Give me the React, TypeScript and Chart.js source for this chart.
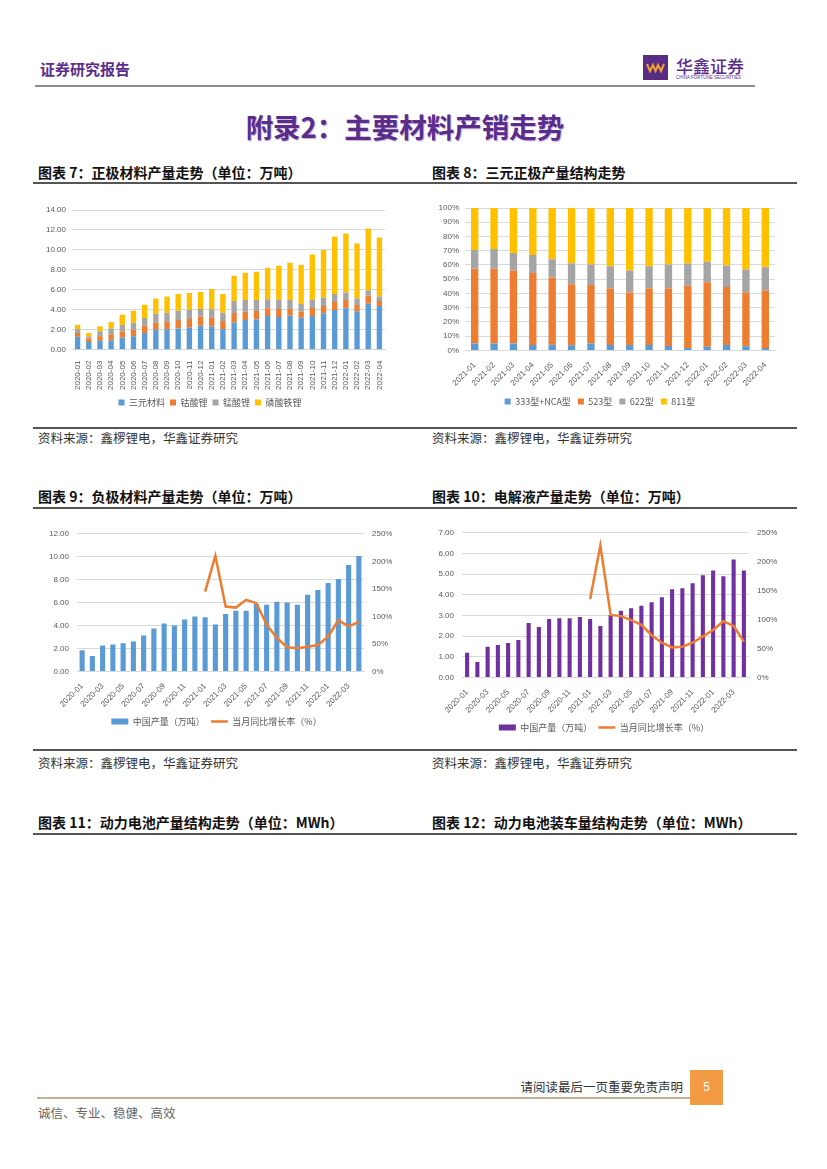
import React, { useEffect, useRef } from "react";
import { Chart, registerables } from "chart.js";

Chart.register(...registerables);

const FONT = '"Liberation Sans", "Noto Sans CJK SC", sans-serif';
const CJK = '"Noto Sans CJK SC", sans-serif';

const months28 = [
  "2020-01", "2020-02", "2020-03", "2020-04", "2020-05", "2020-06", "2020-07", "2020-08", "2020-09", "2020-10", "2020-11", "2020-12",
  "2021-01", "2021-02", "2021-03", "2021-04", "2021-05", "2021-06", "2021-07", "2021-08", "2021-09", "2021-10", "2021-11", "2021-12",
  "2022-01", "2022-02", "2022-03", "2022-04",
];
const months16 = [
  "2021-01", "2021-02", "2021-03", "2021-04", "2021-05", "2021-06", "2021-07", "2021-08", "2021-09", "2021-10", "2021-11", "2021-12",
  "2022-01", "2022-02", "2022-03", "2022-04",
];

// 图表7 正极材料产量（万吨）
const cathodeNCM = [1.28, 0.77, 0.88, 0.94, 1.21, 1.35, 1.68, 1.99, 2.05, 2.12, 2.22, 2.39, 2.32, 2.05, 2.73, 2.96, 3.03, 3.37, 3.27, 3.40, 3.20, 3.37, 3.64, 3.97, 4.14, 3.84, 4.61, 4.38];
const cathodeLCO = [0.40, 0.34, 0.47, 0.61, 0.61, 0.64, 0.71, 0.71, 0.74, 0.84, 0.84, 0.91, 0.88, 0.81, 0.94, 0.84, 0.84, 0.77, 0.81, 0.67, 0.61, 0.81, 0.74, 0.81, 0.84, 0.64, 0.81, 0.50];
const cathodeLMO = [0.37, 0.20, 0.50, 0.57, 0.64, 0.71, 0.77, 0.91, 0.91, 0.94, 0.94, 0.77, 0.84, 0.84, 1.21, 1.18, 1.11, 0.91, 0.91, 0.91, 0.77, 0.81, 0.81, 0.81, 0.74, 0.64, 0.54, 0.44];
const cathodeLFP = [0.44, 0.37, 0.50, 0.64, 1.04, 1.20, 1.35, 1.51, 1.62, 1.69, 1.69, 1.72, 2.05, 1.89, 2.53, 2.73, 2.83, 3.17, 3.43, 3.74, 3.94, 4.54, 4.81, 5.76, 5.93, 5.52, 6.19, 5.93];
const cathodeTicks = [0, 2, 4, 6, 8, 10, 12, 14];

// 图表8 三元正极产量结构（%）
const ncm333NCA = [4.8, 4.8, 4.8, 3.8, 4.0, 3.6, 4.8, 3.8, 3.8, 3.8, 3.1, 1.7, 2.6, 3.8, 2.9, 1.7];
const ncm523 = [52.6, 52.6, 51.4, 50.5, 47.2, 42.8, 41.1, 39.7, 36.9, 39.7, 40.4, 43.8, 45.2, 40.7, 37.8, 40.4];
const ncm622 = [13.2, 13.9, 12.2, 12.7, 12.9, 14.8, 14.4, 15.6, 15.5, 15.6, 16.8, 15.5, 14.4, 15.1, 16.2, 16.3];
const ncm811 = [29.4, 28.7, 31.6, 33.0, 35.9, 38.8, 39.7, 40.9, 43.8, 40.9, 39.7, 39.0, 37.8, 40.4, 43.1, 41.6];

// 图表9 负极材料
const anodeOutput = [1.84, 1.35, 2.27, 2.36, 2.45, 2.62, 3.14, 3.74, 4.17, 4.00, 4.52, 4.78, 4.72, 4.09, 5.00, 5.29, 5.29, 5.87, 5.81, 6.07, 6.01, 5.81, 6.68, 7.11, 7.71, 8.06, 9.27, 10.07];
const anodeYoY = [null, null, null, null, null, null, null, null, null, null, null, null, 145, 210, 118, 116, 130, 124, 85, 61, 44, 42, 45, 48, 63, 93, 82, 90];

// 图表10 电解液
const electrolyteOutput = [1.19, 0.75, 1.49, 1.57, 1.67, 1.81, 2.63, 2.44, 2.83, 2.87, 2.87, 2.92, 2.83, 2.49, 3.02, 3.23, 3.35, 3.47, 3.64, 3.88, 4.27, 4.32, 4.56, 4.94, 5.18, 4.90, 5.71, 5.18];
const electrolyteYoY = [null, null, null, null, null, null, null, null, null, null, null, null, 135, 228, 108, 106, 99, 91, 73, 60, 52, 53, 60, 71, 82, 97, 89, 62];

const tickFont = { family: FONT, size: 8 };
const tickColor = "#595959";
const gridColor = "#D9D9D9";

function stackedCathode(): any {
  return {
    type: "bar",
    data: {
      labels: months28,
      datasets: [
        { label: "三元材料", data: cathodeNCM, backgroundColor: "#5B9BD5" },
        { label: "钴酸锂", data: cathodeLCO, backgroundColor: "#ED7D31" },
        { label: "锰酸锂", data: cathodeLMO, backgroundColor: "#A5A5A5" },
        { label: "磷酸铁锂", data: cathodeLFP, backgroundColor: "#FFC000" },
      ],
    },
    options: {
      responsive: false,
      animation: false,
      devicePixelRatio: 1,
      layout: { padding: { left: 0, right: 25, top: 14, bottom: 2 } },
      datasets: { bar: { categoryPercentage: 1, barPercentage: 0.48 } },
      plugins: {
        legend: {
          position: "bottom",
          labels: { boxWidth: 6, boxHeight: 6, font: { family: CJK, size: 9 }, color: tickColor, padding: 5 },
        },
        tooltip: { enabled: false },
      },
      scales: {
        x: {
          stacked: true,
          grid: { display: false },
          border: { color: gridColor },
          ticks: { minRotation: 90, maxRotation: 90, autoSkip: false, font: tickFont, color: tickColor, padding: 3 },
        },
        y: {
          stacked: true,
          min: 0,
          max: 14,
          afterBuildTicks: (s: any) => { s.ticks = cathodeTicks.map((v) => ({ value: v })); },
          ticks: { callback: (v: any) => Number(v).toFixed(2), font: tickFont, color: tickColor, padding: 6 },
          grid: { color: gridColor, drawTicks: false },
          border: { display: false },
          afterFit: (s: any) => { s.width = 37; },
        },
      },
    },
  };
}

function structureNCM(): any {
  return {
    type: "bar",
    data: {
      labels: months16,
      datasets: [
        { label: "333型+NCA型", data: ncm333NCA, backgroundColor: "#5B9BD5" },
        { label: "523型", data: ncm523, backgroundColor: "#ED7D31" },
        { label: "622型", data: ncm622, backgroundColor: "#A5A5A5" },
        { label: "811型", data: ncm811, backgroundColor: "#FFC000" },
      ],
    },
    options: {
      responsive: false,
      animation: false,
      devicePixelRatio: 1,
      layout: { padding: { left: 0, right: 20, top: 12, bottom: 2 } },
      datasets: { bar: { categoryPercentage: 1, barPercentage: 0.38 } },
      plugins: {
        legend: {
          position: "bottom",
          labels: { boxWidth: 6, boxHeight: 6, font: { family: CJK, size: 9 }, color: tickColor, padding: 7 },
        },
        tooltip: { enabled: false },
      },
      scales: {
        x: {
          stacked: true,
          grid: { display: false },
          border: { color: gridColor },
          ticks: { minRotation: 45, maxRotation: 45, autoSkip: false, font: tickFont, color: tickColor, padding: 2 },
        },
        y: {
          stacked: true,
          min: 0,
          max: 100,
          ticks: { stepSize: 10, callback: (v: any) => v + "%", font: tickFont, color: tickColor, padding: 6 },
          grid: { color: gridColor, drawTicks: false },
          border: { display: false },
          afterFit: (s: any) => { s.width = 40; },
        },
      },
    },
  };
}

function comboChart(values: number[], yoy: (number | null)[], barColor: string, leftMax: number, leftStep: number, barPct: number, leftW: number, topPad: number): any {
  return {
    type: "bar",
    data: {
      labels: months28,
      datasets: [
        {
          type: "line",
          label: "当月同比增长率（%）",
          data: yoy,
          borderColor: "#ED7D31",
          backgroundColor: "#ED7D31",
          borderWidth: 2.5,
          pointRadius: 0,
          pointStyle: "line",
          tension: 0,
          yAxisID: "y1",
          order: 0,
        },
        {
          type: "bar",
          label: "中国产量（万吨）",
          data: values,
          backgroundColor: barColor,
          pointStyle: "rect",
          yAxisID: "y",
          categoryPercentage: 1,
          barPercentage: barPct,
          order: 1,
        },
      ],
    },
    options: {
      responsive: false,
      animation: false,
      devicePixelRatio: 1,
      layout: { padding: { left: 0, right: 12, top: topPad, bottom: 2 } },
      plugins: {
        legend: {
          position: "bottom",
          reverse: true,
          labels: {
            usePointStyle: true,
            pointStyleWidth: 17,
            boxHeight: 6,
            font: { family: CJK, size: 9 },
            color: tickColor,
            padding: 6,
          },
        },
        tooltip: { enabled: false },
      },
      scales: {
        x: {
          grid: { display: false },
          border: { color: gridColor },
          ticks: {
            minRotation: 45,
            maxRotation: 45,
            autoSkip: false,
            font: tickFont,
            color: tickColor,
            padding: 2,
            callback: (_v: any, i: number) => (i % 2 === 0 ? months28[i] : ""),
          },
        },
        y: {
          position: "left",
          min: 0,
          max: leftMax,
          ticks: { stepSize: leftStep, callback: (v: any) => Number(v).toFixed(2), font: tickFont, color: tickColor, padding: 8 },
          grid: { color: gridColor, drawTicks: false },
          border: { display: false },
          afterFit: (s: any) => { s.width = leftW; },
        },
        y1: {
          position: "right",
          min: 0,
          max: 250,
          ticks: { stepSize: 50, callback: (v: any) => v + "%", font: tickFont, color: tickColor, padding: 8 },
          grid: { display: false, drawTicks: false },
          border: { display: false },
          afterFit: (s: any) => { s.width = 34; },
        },
      },
    },
  };
}

function ChartCanvas(props: { left: number; top: number; width: number; height: number; make: () => any }) {
  const ref = useRef<HTMLCanvasElement>(null);
  useEffect(() => {
    const chart = new Chart(ref.current as HTMLCanvasElement, props.make());
    return () => chart.destroy();
  }, []);
  return (
    <canvas
      ref={ref}
      width={props.width}
      height={props.height}
      style={{ position: "absolute", left: props.left, top: props.top, width: props.width, height: props.height }}
    />
  );
}

const PURPLE = "#5A2D8C";

function Text(props: { x: number; y: number; size: number; children: any; color?: string; weight?: any; align?: "left" | "right" | "center"; family?: string; extra?: any }) {
  const align = props.align || "left";
  const style: any = {
    position: "absolute",
    top: props.y - props.size * 0.7,
    fontSize: props.size,
    lineHeight: `${props.size * 1.4}px`,
    fontFamily: props.family || CJK,
    fontWeight: props.weight || "normal",
    color: props.color || "#222",
    whiteSpace: "nowrap",
    ...(props.extra || {}),
  };
  if (align === "left") style.left = props.x;
  else if (align === "right") { style.right = 827 - props.x; }
  else { style.left = props.x - 300; style.width = 600; style.textAlign = "center"; }
  return <div style={style}>{props.children}</div>;
}

function HLine(props: { x1: number; x2: number; y: number; h: number; color: string }) {
  return <div style={{ position: "absolute", left: props.x1, top: props.y - props.h / 2, width: props.x2 - props.x1, height: props.h, background: props.color }} />;
}

export default function App() {
  return (
    <div style={{ position: "absolute", left: 0, top: 0, width: 827, height: 1169, background: "#fff", overflow: "hidden" }}>
      {/* header */}
      <Text x={40} y={68} size={15} weight={700} color={PURPLE}>证券研究报告</Text>
      <div style={{ position: "absolute", left: 643, top: 55, width: 25, height: 25, background: "#5B2C83" }}>
        <svg width="25" height="25" viewBox="0 0 25 25">
          <polyline points="4,9 7,16 10,10 12.5,16 15,10 18,16 21,9" fill="none" stroke="#F0A030" strokeWidth="2" />
        </svg>
      </div>
      <Text x={676} y={66} size={17} color={PURPLE} weight={500}>华鑫证券</Text>
      <Text x={676} y={78} size={4.5} color={PURPLE} family={FONT}>CHINA FORTUNE SECURITIES</Text>
      <HLine x1={35} x2={755} y={86} h={2} color="#8C8C8C" />

      <Text x={405} y={126} size={27.5} weight={700} color={PURPLE} align="center" extra={{ textShadow: "1px 1px 1px rgba(90,45,140,0.35)" }}>
        附录2：主要材料产销走势
      </Text>

      {/* row 1 */}
      <Text x={38} y={173} size={14} weight={700} color="#111">图表 7：正极材料产量走势（单位：万吨）</Text>
      <Text x={432} y={173} size={14} weight={700} color="#111">图表 8：三元正极产量结构走势</Text>
      <HLine x1={33} x2={797} y={183} h={1.5} color="#555" />
      <ChartCanvas left={35} top={196} width={375} height={223} make={stackedCathode} />
      <ChartCanvas left={425} top={196} width={370} height={222} make={structureNCM} />
      <HLine x1={33} x2={797} y={428} h={1.5} color="#555" />
      <Text x={38} y={438} size={12.5} color="#333">资料来源：鑫椤锂电，华鑫证券研究</Text>
      <Text x={432} y={438} size={12.5} color="#333">资料来源：鑫椤锂电，华鑫证券研究</Text>

      {/* row 2 */}
      <Text x={38} y={497} size={14} weight={700} color="#111">图表 9：负极材料产量走势（单位：万吨）</Text>
      <Text x={432} y={497} size={14} weight={700} color="#111">图表 10：电解液产量走势（单位：万吨）</Text>
      <HLine x1={33} x2={797} y={508} h={1.5} color="#555" />
      <ChartCanvas left={35} top={521} width={375} height={217} make={() => comboChart(anodeOutput, anodeYoY, "#5B9BD5", 12, 2, 0.5, 42, 6)} />
      <ChartCanvas left={425} top={520} width={370} height={224} make={() => comboChart(electrolyteOutput, electrolyteYoY, "#7030A0", 7, 1, 0.4, 37, 9)} />
      <HLine x1={33} x2={797} y={750} h={1.5} color="#555" />
      <Text x={38} y={763} size={12.5} color="#333">资料来源：鑫椤锂电，华鑫证券研究</Text>
      <Text x={432} y={763} size={12.5} color="#333">资料来源：鑫椤锂电，华鑫证券研究</Text>

      {/* row 3 */}
      <Text x={38} y={823} size={14} weight={700} color="#111">图表 11：动力电池产量结构走势（单位：MWh）</Text>
      <Text x={432} y={823} size={14} weight={700} color="#111">图表 12：动力电池装车量结构走势（单位：MWh）</Text>
      <HLine x1={33} x2={797} y={834} h={1.5} color="#555" />

      {/* footer */}
      <Text x={683} y={1087} size={12.5} color="#333" align="right">请阅读最后一页重要免责声明</Text>
      <div style={{ position: "absolute", left: 690, top: 1070, width: 33, height: 35, background: "#F39A45", color: "#fff", fontFamily: FONT, fontSize: 12, lineHeight: "35px", textAlign: "center" }}>5</div>
      <HLine x1={37} x2={690} y={1098} h={1.5} color="#BFB295" />
      <Text x={38} y={1113} size={12.5} color="#666">诚信、专业、稳健、高效</Text>
    </div>
  );
}
